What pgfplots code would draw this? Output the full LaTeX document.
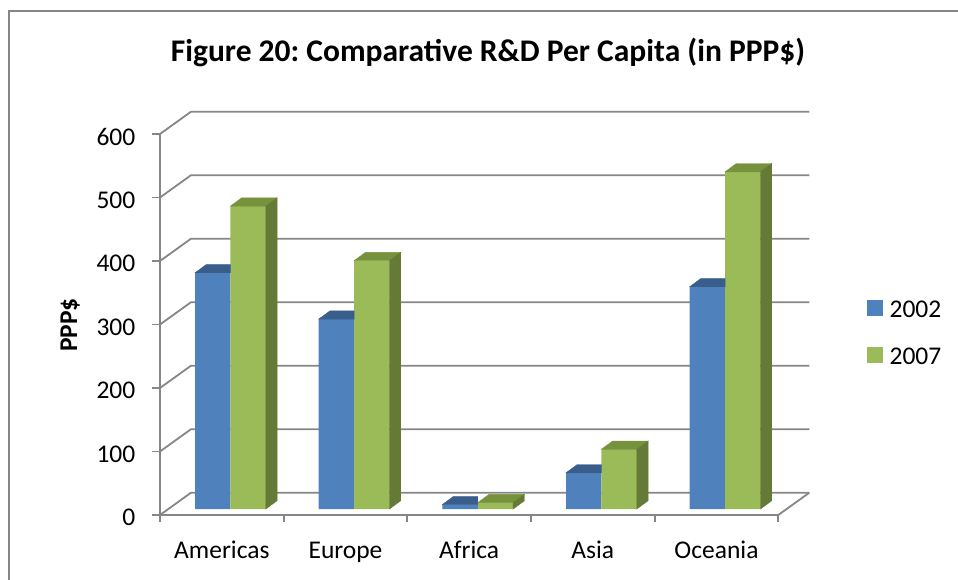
\documentclass[border=0pt]{standalone}
\usepackage{fontspec}
\setmainfont{Carlito}
\usepackage{pgfplots}
\pgfplotsset{compat=1.18}
\frenchspacing

\definecolor{gridc}{RGB}{134,134,134}
\definecolor{frontA}{RGB}{79,129,189}
\definecolor{topA}{RGB}{57,94,140}
\definecolor{frontB}{RGB}{155,187,89}
\definecolor{topB}{RGB}{119,146,60}
\definecolor{sideB}{RGB}{102,122,56}

% empty plot mark: the 3D faces are drawn by the scatter hooks
\pgfdeclareplotmark{none3d}{}

% R&D per capita (PPP$), regions at x = 0..4
\pgfplotstableread{
x  v
0  372
1  299
2  7
3  57
4  350
}\dataA
\pgfplotstableread{
x  v
0  477
1  391
2  10
3  94
4  531
}\dataB

% front bar of a pair: only the visible part of its top face
% (#1 = left edge, #2 = right edge of the front face, #3 = colour)
\newcommand\bartopleft[3]{%
  \fill[#3] (#1pt,6pt) -- (#2pt,6pt) -- (#2pt,14.3pt) -- ({(#1+11.3)*1pt},14.3pt) -- cycle;
}
% back bar of a pair: top face and right side face
\newcommand\barfaces[4]{%
  \pgfmathsetmacro\h{\rawy*0.635}%
  \fill[#3] (#1pt,6pt) -- (#2pt,6pt) -- ({(#2+11.3)*1pt},14.3pt) -- ({(#1+11.3)*1pt},14.3pt) -- cycle;
  \fill[#4] (#2pt,6pt) -- ({(#2+11.3)*1pt},14.3pt) -- ({(#2+11.3)*1pt},{(14.3-\h)*1pt}) -- (#2pt,{(6-\h)*1pt}) -- cycle;
}

\begin{document}
\begin{tikzpicture}[x=1pt,y=1pt]
\useasboundingbox (0,0) rectangle (958,579);
% outer frame
\draw[gridc, line width=1.3pt] (9,-10) -- (9,568) -- (970,568);
% title
\node[anchor=base, font=\fontsize{31.5}{36}\selectfont\bfseries, inner sep=0pt]
  at (488,517.3) {Figure 20: Comparative R\&D Per Capita (in PPP\$)};

\begin{axis}[
  at={(160pt,64pt)}, anchor=south west,
  x=123.66pt, y=0.635pt,
  xmin=-0.5, xmax=4.5, ymin=0, ymax=600,
  clip=false,
  axis line style={draw=none},
  major tick length=0pt,
  xtick={0,...,4},
  xticklabels={Americas,Europe,Africa,Asia,Oceania},
  ytick={0,100,...,600},
  /pgf/number format/assume math mode=true,
  xticklabel style={font=\fontsize{25.5}{30}\selectfont, anchor=base, inner sep=0pt, yshift=-43pt},
  yticklabel style={font=\fontsize{25.5}{30}\selectfont, anchor=east, inner sep=0pt, xshift=-24.5pt, yshift=-2.5pt},
  ylabel={PPP\$},
  ylabel style={font=\fontsize{25.5}{30}\selectfont\bfseries, at={(axis description cs:-0.1342,0.4987)}, anchor=base, inner sep=0pt},
  legend style={at={(axis description cs:1.1435,0.4803)}, anchor=west, draw=none, fill=none,
    inner sep=0pt, row sep=30pt, font=\fontsize{25.5}{30}\selectfont,
    nodes={inner sep=0pt, text height=16pt, text depth=0pt}},
  legend cell align=left,
]
% back wall, side wall and floor
\pgfplotsinvokeforeach{0,100,...,600}{
  \draw[gridc, line width=1.8pt] (axis cs:-0.5,#1) -- ([shift={(31pt,22.3pt)}]axis cs:-0.5,#1)
     -- ([shift={(31pt,22.3pt)}]axis cs:4.5,#1);
}
\draw[gridc, line width=1.8pt] (axis cs:-0.5,600) -- (axis cs:-0.5,0) -- (axis cs:4.5,0)
   -- ([shift={(31pt,22.3pt)}]axis cs:4.5,0);
\pgfplotsinvokeforeach{0,100,...,600}{
  \draw[gridc, line width=1.8pt] (axis cs:-0.5,#1) -- ++(-8pt,0pt);
}
\pgfplotsinvokeforeach{-0.5,0.5,...,4.5}{
  \draw[gridc, line width=1.8pt] (axis cs:#1,0) -- ++(0pt,-7pt);
}

% 2002
\addplot[forget plot, ybar, bar width=35.4pt, bar shift=-17.7pt, xshift=8.6pt, yshift=6pt,
  fill=frontA, draw=none] table[x=x,y=v] {\dataA};
\addplot[forget plot, only marks, mark=none3d, scatter, point meta=y,
  scatter/@pre marker code/.code={\bartopleft{-26.8}{8.6}{topA}},
  scatter/@post marker code/.code={}] table[x=x,y=v] {\dataA};
% 2007
\addplot[forget plot, ybar, bar width=35.4pt, bar shift=17.7pt, xshift=8.6pt, yshift=6pt,
  fill=frontB, draw=none] table[x=x,y=v] {\dataB};
\addplot[forget plot, only marks, mark=none3d, scatter, point meta=y,
  visualization depends on={rawy \as \rawy},
  scatter/@pre marker code/.code={\barfaces{8.6}{44}{topB}{sideB}},
  scatter/@post marker code/.code={}] table[x=x,y=v] {\dataB};

\addlegendimage{legend image code/.code={\fill[frontA] (0pt,-6pt) rectangle (15pt,9pt); \path (22pt,0pt);}}
\addlegendentry{2002}
\addlegendimage{legend image code/.code={\fill[frontB] (0pt,-6pt) rectangle (15pt,9pt); \path (22pt,0pt);}}
\addlegendentry{2007}
\end{axis}
\end{tikzpicture}
\end{document}
